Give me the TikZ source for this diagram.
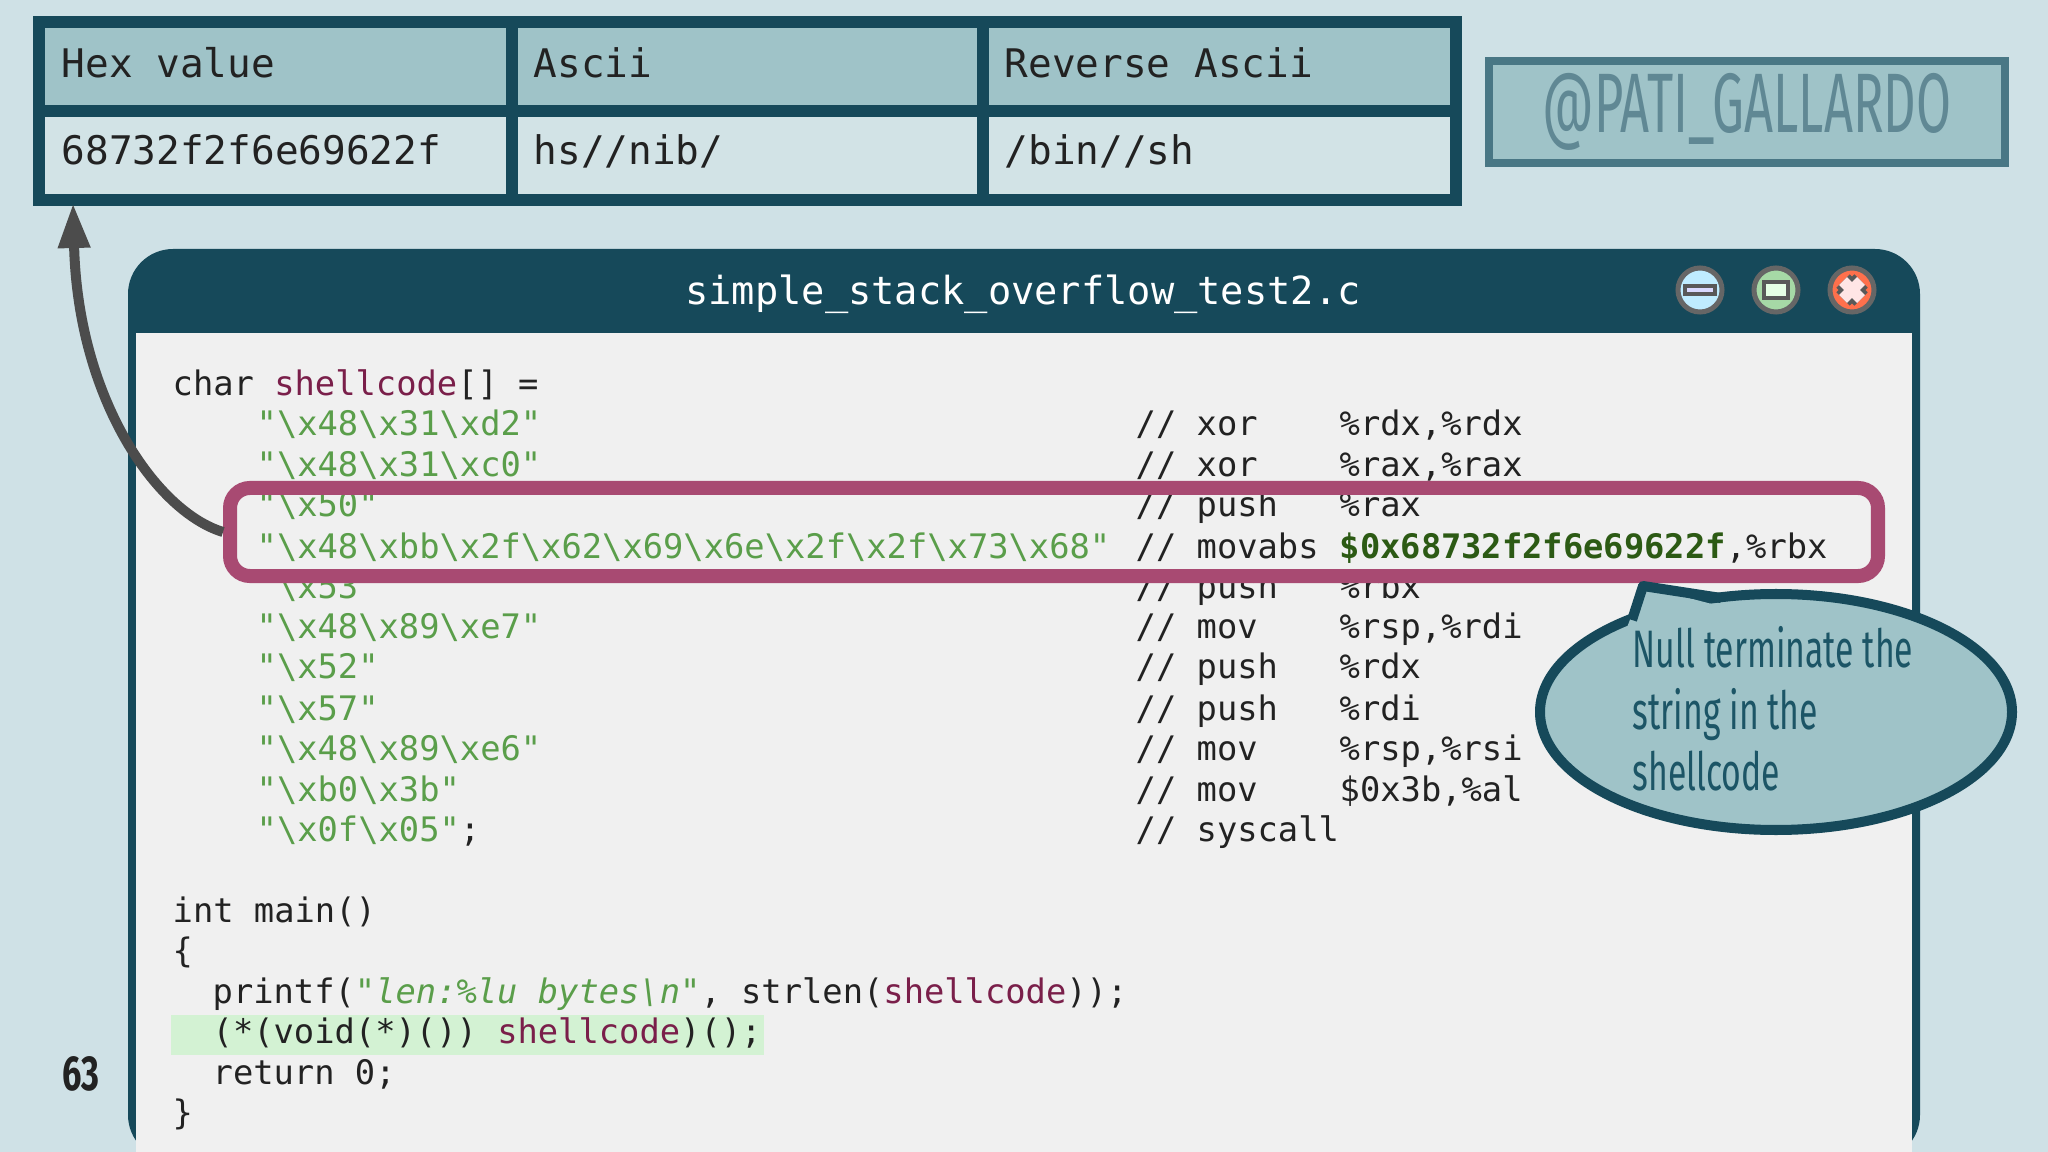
\documentclass[tikz,border=0pt]{standalone}
\usepackage{fontspec}
\setmainfont{Fira Sans}
\setmonofont{DejaVu Sans Mono}
\usetikzlibrary{arrows.meta}
\definecolor{bg}{HTML}{CFE1E6}
\definecolor{dark}{HTML}{16495A}
\definecolor{hdr}{HTML}{9FC3C8}
\definecolor{rowc}{HTML}{D2E3E6}
\definecolor{body}{HTML}{F0F0F0}
\definecolor{strc}{HTML}{5A9E4A}
\definecolor{kw}{HTML}{7A1F4A}
\definecolor{bgreen}{HTML}{2C5A14}
\definecolor{mag}{HTML}{A84A72}
\definecolor{ctext}{HTML}{1C5566}
\definecolor{codec}{HTML}{222222}
\newcommand{\bs}{\textbackslash}
\tikzset{
 code/.style={anchor=base west,inner sep=0pt,font=\ttfamily\fontsize{9.6}{11}\selectfont,text=codec},
 tab/.style={anchor=base west,inner sep=0pt,font=\ttfamily\fontsize{11.2}{13}\selectfont,text=codec},
 cell/.style={draw=dark,line width=1.2mm},
 btn/.style={circle,draw=gray!80!black,line width=0.5mm,minimum size=0.44cm,inner sep=0pt}
}
\begin{document}
\begin{tikzpicture}[x=0.01cm,y=-0.01cm]
\fill[bg] (0,0) rectangle (2048,1152);
\useasboundingbox (0,0) rectangle (2048,1152);
% table
\fill[hdr] (39,22) rectangle (1456,111);
\fill[rowc] (39,111) rectangle (1456,200);
\draw[cell] (39,22) rectangle (1456,200);
\draw[cell] (39,111) -- (1456,111);
\draw[cell] (512,22) -- (512,200);
\draw[cell] (983,22) -- (983,200);
\node[tab] (h1) at (61,78) {Hex value};
\node[tab] (h2) at (533,78) {Ascii};
\node[tab] (h3) at (1004,78) {Reverse Ascii};
\node[tab] (v1) at (61,165) {68732f2f6e69622f};
\node[tab] (v2) at (533,165) {hs//nib/};
\node[tab] (v3) at (1004,165) {/bin//sh};
% handle
\node[draw=ctext!80,line width=0.8mm,fill=hdr,minimum width=5.16cm,minimum height=1.01cm,text=ctext!70,font=\fontsize{24}{26}\selectfont] (handle) at (1747,112) {\scalebox{0.6}[1]{@PATI\_GALLARDO}};
% window
\fill[dark,rounded corners=0.45cm] (128,1160) -- (128,249) -- (1920,249) -- (1920,1160) -- cycle;
\fill[body] (136,333) rectangle (1912,1160);
\node[font=\ttfamily\fontsize{11}{13}\selectfont,text=white] (title) at (1023,294) {simple\_stack\_overflow\_test2.c};
\node[btn,fill=blue!30!cyan!25] (b1) at (1700,290) {};
\draw[gray!70!black,fill=white!85!blue,line width=0.4mm] (1685,286) rectangle (1715,294);
\node[btn,fill=green!40!gray!50] (b2) at (1776,290) {};
\draw[gray!70!black,fill=green!10,line width=0.4mm] (1764,282) rectangle (1788,298);
\node[btn,fill=red!60!orange!70] (b3) at (1852,290) {};
\draw[gray!70!black,line width=1.9mm] (1843,281) -- (1861,299) (1843,299) -- (1861,281);
\draw[red!10,line width=1.1mm] (1843,281) -- (1861,299) (1843,299) -- (1861,281);
% main highlight
\fill[green!12!body] (171,1015) rectangle (764,1055);
% code
\node[code] (c0) at (172,396) {char \textcolor{kw}{shellcode}[] =};
\foreach \y/\s/\c/\o [count=\i] in {
 436/"\bs x48\bs x31\bs xd2"/xor/{\%rdx,\%rdx},
 477/"\bs x48\bs x31\bs xc0"/xor/{\%rax,\%rax},
 517/"\bs x50"/push/{\%rax},
 598/"\bs x53"/push/{\%rbx},
 639/"\bs x48\bs x89\bs xe7"/mov/{\%rsp,\%rdi},
 679/"\bs x52"/push/{\%rdx},
 720/"\bs x57"/push/{\%rdi},
 760/"\bs x48\bs x89\bs xe6"/mov/{\%rsp,\%rsi},
 801/"\bs xb0\bs x3b"/mov/{\$0x3b,\%al}}{
 \node[code,text=strc] (s\i) at (256,\y) {\s};
 \node[code] (k\i) at (1135,\y) {// \c};
 \node[code] (o\i) at (1339,\y) {\o};
}
\node[code,text=strc] (s10) at (256,558) {"\bs x48\bs xbb\bs x2f\bs x62\bs x69\bs x6e\bs x2f\bs x2f\bs x73\bs x68"};
\node[code] (k10) at (1135,558) {// movabs};
\node[code] (o10) at (1339,558) {\textcolor{bgreen}{\bfseries\$0x68732f2f6e69622f},\%rbx};
\node[code] (s11) at (256,841) {\textcolor{strc}{"\bs x0f\bs x05"};};
\node[code] (k11) at (1135,841) {// syscall};
\node[code] (m1) at (172,922) {int main()};
\node[code] (m2) at (172,962) {\{};
\node[code] (m3) at (212,1003) {printf(\textcolor{strc}{\itshape"len:\%lu bytes\bs n"}, strlen(\textcolor{kw}{shellcode}));};
\node[code] (m4) at (212,1043) {(*(void(*)()) \textcolor{kw}{shellcode})();};
\node[code] (m5) at (212,1084) {return 0;};
\node[code] (m6) at (172,1124) {\}};
% highlight box
\node[draw=mag,line width=1.4mm,rounded corners=0.2cm,minimum width=16.47cm,minimum height=0.88cm] (hl) at (1054,532) {};
% arrow
\coordinate (atip) at (73,203);
\draw[gray!60!black,line width=1mm,-{Triangle[length=0.45cm,width=0.3cm]}] (hl.west) .. controls (157,512) and (78,400) .. (atip);
% callout
\draw[dark,line width=1mm,fill=hdr] (1776,712) ellipse[x radius=236,y radius=118];
\fill[hdr] (1643,586) -- (1626,630) -- (1727,608) -- cycle;
\draw[dark,line width=1mm,line join=round] (1632,620) -- (1643,586) -- (1721,598);
\node[anchor=north west,align=left,text=ctext,font=\fontsize{15}{17.5}\selectfont,inner sep=0pt] (note) at (1632,626) {\scalebox{0.64}[1]{Null terminate the}\\\scalebox{0.64}[1]{string in the}\\\scalebox{0.64}[1]{shellcode}};
\node[font=\bfseries\fontsize{14}{16}\selectfont,text=codec] (pg) at (81,1074) {\scalebox{0.7}[1]{63}};
\end{tikzpicture}
\end{document}
